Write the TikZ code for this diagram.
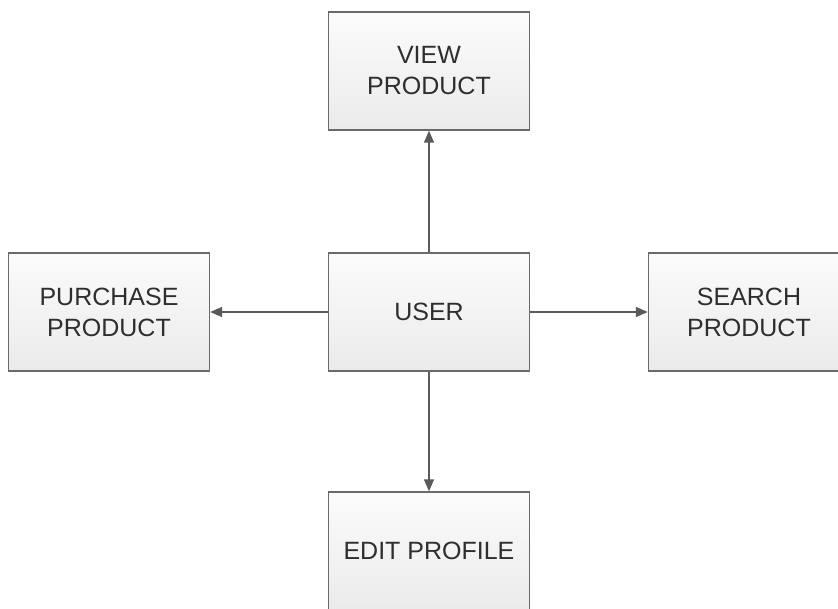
\documentclass[tikz,border=0pt]{standalone}
\usepackage{fontspec}
\setmainfont{Liberation Sans}
\usetikzlibrary{arrows.meta}
\definecolor{boxline}{HTML}{6A6A6A}
\definecolor{arrowc}{HTML}{5A5A5A}
\definecolor{txt}{HTML}{2E2E2E}
\begin{document}
\begin{tikzpicture}[x=1pt,y=-1pt,
  box/.style={draw=boxline, line width=1.4pt, top color=white!97!gray, bottom color=gray!16,
    minimum width=201pt, minimum height=118pt, inner sep=0pt, align=center,
    font=\fontsize{25}{31}\selectfont, text=txt},
  conn/.style={draw=arrowc, line width=1.4pt, -{Triangle[length=12pt,width=10pt]}}]
\useasboundingbox (0,0) rectangle (838,609);
\clip (0,0) rectangle (838,609);
\node[box] (view) at (429,71) {VIEW\\PRODUCT};
\node[box] (user) at (429,312) {USER};
\node[box] (purchase) at (109,312) {PURCHASE\\PRODUCT};
\node[box] (search) at (749,312) {SEARCH\\PRODUCT};
\node[box] (edit) at (429,551) {EDIT PROFILE};
\draw[conn] (user) -- (view);
\draw[conn] (user) -- (purchase);
\draw[conn] (user) -- (search);
\draw[conn] (user) -- (edit);
\end{tikzpicture}
\end{document}
